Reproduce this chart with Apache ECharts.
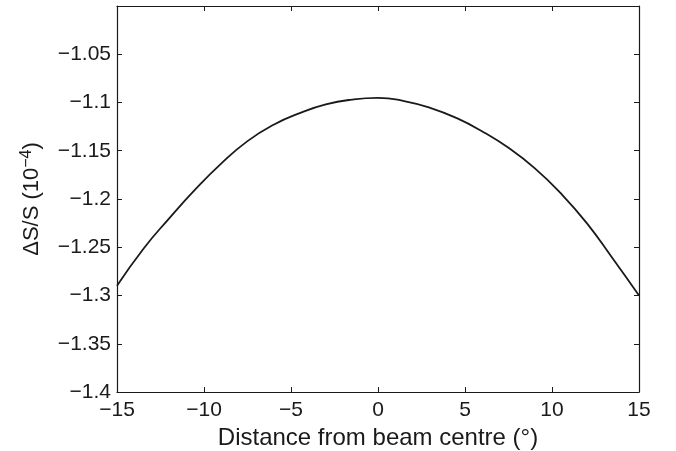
<!DOCTYPE html>
<html>
<head>
<meta charset="utf-8">
<script src="https://cdn.jsdelivr.net/npm/echarts@6/dist/echarts.min.js"></script>
<style>
  html, body {margin: 0; padding: 0; background: #fff;}
  #chart {width: 676px; height: 451px;}
</style>
</head>
<body>
<div id="chart"></div>
<script>
// values, every 1.5 degrees
const distance = [-15, -13.5, -12, -10.5, -9, -7.5, -6, -4.5, -3, -1.5, 0, 1.5, 3, 4.5, 6, 7.5, 9, 10.5, 12, 13.5, 15];
const deltaS = [-1.290, -1.252, -1.220, -1.190, -1.163, -1.140, -1.123, -1.111, -1.102, -1.097, -1.0952, -1.0985, -1.1055, -1.116, -1.130, -1.147, -1.168, -1.194, -1.225, -1.262, -1.300];
const xTicks = [-15, -10, -5, 0, 5, 10, 15];
const yTicks = [-1.4, -1.35, -1.3, -1.25, -1.2, -1.15, -1.1, -1.05];

const FONT = '"Liberation Sans", Arial, Helvetica, sans-serif';
const INK = '#1a1a1a';

/**
 * tick label in matlab style, with a real minus sign
 * @param {number} v - tick value
 * @param {number[]} shown - ticks that get a label
 * @return {string} label
 */
function tickText(v, shown) {
  const r = +v.toFixed(2);
  if (!shown.some((t) => Math.abs(t - r) < 1e-9)) return '';
  return String(r).replace('-', '\u2212');
}

const axisBase = {
  type: 'value',
  axisLine: {show: true, onZero: false, lineStyle: {color: INK, width: 1.2}},
  axisTick: {show: true, inside: true, length: 5, lineStyle: {color: INK, width: 1}},
  splitLine: {show: false},
};

const ops = {
  animation: false,
  backgroundColor: '#fff',
  grid: {left: 117, right: 37, top: 6, bottom: 59, outerBoundsMode: 'none', containLabel: false},
  xAxis: [
    Object.assign({}, axisBase, {
      min: -15, max: 15, interval: 5, position: 'bottom',
      axisLabel: {
        color: INK, fontFamily: FONT, fontSize: 21, margin: 8,
        formatter: (v) => tickText(v, xTicks),
      },
      name: 'Distance from beam centre (\u00b0)',
      nameLocation: 'middle',
      nameGap: 27,
      nameTextStyle: {color: INK, fontFamily: FONT, fontSize: 24},
    }),
    Object.assign({}, axisBase, {
      min: -15, max: 15, interval: 5, position: 'top',
      axisLabel: {show: false},
    }),
  ],
  yAxis: [
    Object.assign({}, axisBase, {
      min: -1.4, max: -1.0, interval: 0.05, position: 'left',
      axisLabel: {
        color: INK, fontFamily: FONT, fontSize: 21, margin: 6,
        formatter: (v) => tickText(v, yTicks),
      },
      name: '{a|\u0394S/S (10}{s|\u22124}{a|)}',
      nameLocation: 'middle',
      nameRotate: 90,
      nameGap: 72,
      nameTextStyle: {
        color: INK, fontFamily: FONT,
        rich: {
          a: {fontFamily: FONT, fontSize: 22, color: INK},
          s: {fontFamily: FONT, fontSize: 16, color: INK, verticalAlign: 'top', padding: [0, 0, 10, 0]},
        },
      },
    }),
    Object.assign({}, axisBase, {
      min: -1.4, max: -1.0, interval: 0.05, position: 'right',
      axisLabel: {show: false},
    }),
  ],
  series: [{
    type: 'line',
    data: distance.map((d, i) => [d, deltaS[i]]),
    smooth: 0.5,
    showSymbol: false,
    clip: true,
    lineStyle: {color: INK, width: 1.8},
  }],
};

const cobj = echarts.init(document.getElementById('chart'), null, {renderer: 'canvas'});
cobj.setOption(ops);
</script>
</body>
</html>
